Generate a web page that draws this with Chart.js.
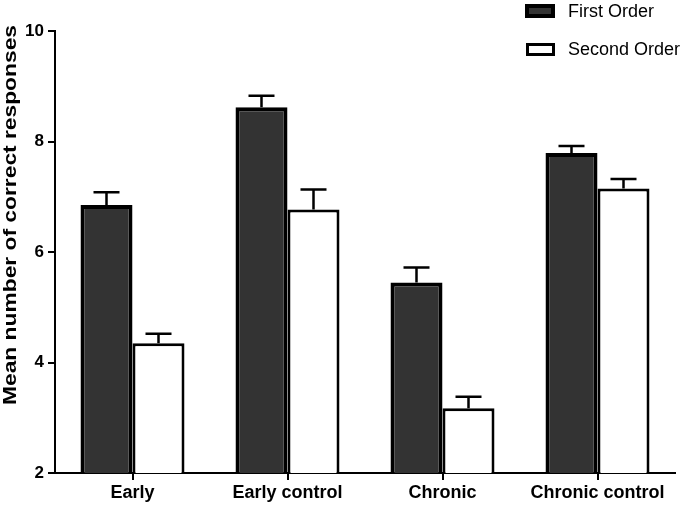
<!DOCTYPE html>
<html>
<head>
<meta charset="utf-8">
<script src="https://cdn.jsdelivr.net/npm/chart.js@4"></script>
<style>
  body { margin: 0; background: #fff; }
  #wrap { position: relative; width: 692px; height: 505px; }
  .lg-box { position: absolute; box-sizing: border-box; border: solid #000; }
  .lg-txt { position: absolute; font: 18px "Liberation Sans", Arial, sans-serif; line-height: 18px; color: #000; white-space: nowrap; }
</style>
</head>
<body>
<div id="wrap">
  <canvas id="graph1"></canvas>
  <div class="lg-box" style="left:525px;top:4px;width:30px;height:14px;border-width:4px;background:#333;"></div>
  <div class="lg-txt" style="left:568px;top:2px;">First Order</div>
  <div class="lg-box" style="left:526px;top:43px;width:29px;height:13px;border-width:3.5px;background:#fff;"></div>
  <div class="lg-txt" style="left:568px;top:40px;">Second Order</div>
</div>
<script>
// データ
const CATEGORIES   = [ "Early", "Early control", "Chronic", "Chronic control" ];
const FIRST_MEAN   = [ 6.85, 8.62, 5.45, 7.79 ];
const FIRST_SEM    = [ 0.23, 0.21, 0.27, 0.13 ];
const SECOND_MEAN  = [ 4.35, 6.77, 3.17, 7.15 ];
const SECOND_SEM   = [ 0.17, 0.36, 0.21, 0.17 ];
const Y_TICKS      = [ 2, 4, 6, 8, 10 ];
const Y_TITLE      = "Mean number of correct responses";

const ERRORS = [ FIRST_SEM, SECOND_SEM ];

Chart.defaults.font.family = '"Liberation Sans", Arial, sans-serif';
Chart.defaults.color = "#000";

// エラーバー（上側のみ）
const errorBars = {
    id: "errorBars",
    afterDatasetsDraw(chart){
        const ctx = chart.ctx;
        const y   = chart.scales.y;
        ctx.save();
        ctx.strokeStyle = "#000";
        ctx.lineWidth   = 2.5;
        chart.data.datasets.forEach((ds, i) => {
            const meta = chart.getDatasetMeta(i);
            meta.data.forEach((bar, j) => {
                const top  = y.getPixelForValue(ds.data[j] + ERRORS[i][j]);
                const half = bar.width / 4;
                ctx.beginPath();
                ctx.moveTo(bar.x, bar.y);
                ctx.lineTo(bar.x, top);
                ctx.moveTo(bar.x - half, top);
                ctx.lineTo(bar.x + half, top);
                ctx.stroke();
            });
        });
        ctx.restore();
    }
};

// 縦軸タイトル（元画像は縦に引き伸ばされているので合わせる）
const yTitle = {
    id: "yTitle",
    afterDraw(chart){
        const ctx = chart.ctx;
        ctx.save();
        ctx.font = 'bold 17.5px "Liberation Sans", Arial, sans-serif';
        ctx.fillStyle = "#000";
        ctx.textAlign = "center";
        ctx.textBaseline = "alphabetic";
        const w = ctx.measureText(Y_TITLE).width;
        ctx.translate(15.5, 215);
        ctx.rotate(-Math.PI / 2);
        ctx.scale(380 / w, 1);
        ctx.fillText(Y_TITLE, 0, 0);
        ctx.restore();
    }
};

window.addEventListener("load", function(){
    const ctx = document.getElementById("graph1").getContext("2d");
    new Chart(ctx, {
        type: "bar",
        data: {
            labels: CATEGORIES,
            datasets: [
                { label: "First Order",  data: FIRST_MEAN,  backgroundColor: "#333333", borderColor: "#000", borderWidth: 4 },
                { label: "Second Order", data: SECOND_MEAN, backgroundColor: "#ffffff", borderColor: "#000", borderWidth: 3 },
            ]
        },
        options: {
            responsive: true,
            maintainAspectRatio: false,
            animation: false,
            datasets: { bar: { categoryPercentage: 0.671, barPercentage: 1.0, borderSkipped: "start" } },
            layout: { padding: { top: 31, right: 17, left: 0, bottom: 0 } },
            plugins: { legend: { display: false }, tooltip: { enabled: false } },
            scales: {
                x: {
                    grid: { offset: false, drawOnChartArea: false, drawTicks: true, tickLength: 7, color: "#000", lineWidth: 2 },
                    border: { display: true, color: "#000", width: 2 },
                    ticks: { font: { size: 18, weight: "bold" }, padding: 2, maxRotation: 0, autoSkip: false },
                    afterFit(scale){ scale.height = 32; }
                },
                y: {
                    min: 2,
                    max: 10,
                    afterBuildTicks(scale){ scale.ticks = Y_TICKS.map(v => ({ value: v })); },
                    grid: { drawOnChartArea: false, drawTicks: true, tickLength: 7, color: "#000", lineWidth: 2 },
                    border: { display: true, color: "#000", width: 2 },
                    ticks: { font: { size: 17, weight: "bold" }, padding: 4 },
                    afterFit(scale){ scale.width = 55; }
                }
            }
        },
        plugins: [ errorBars, yTitle ]
    });
});
</script>
</body>
</html>
